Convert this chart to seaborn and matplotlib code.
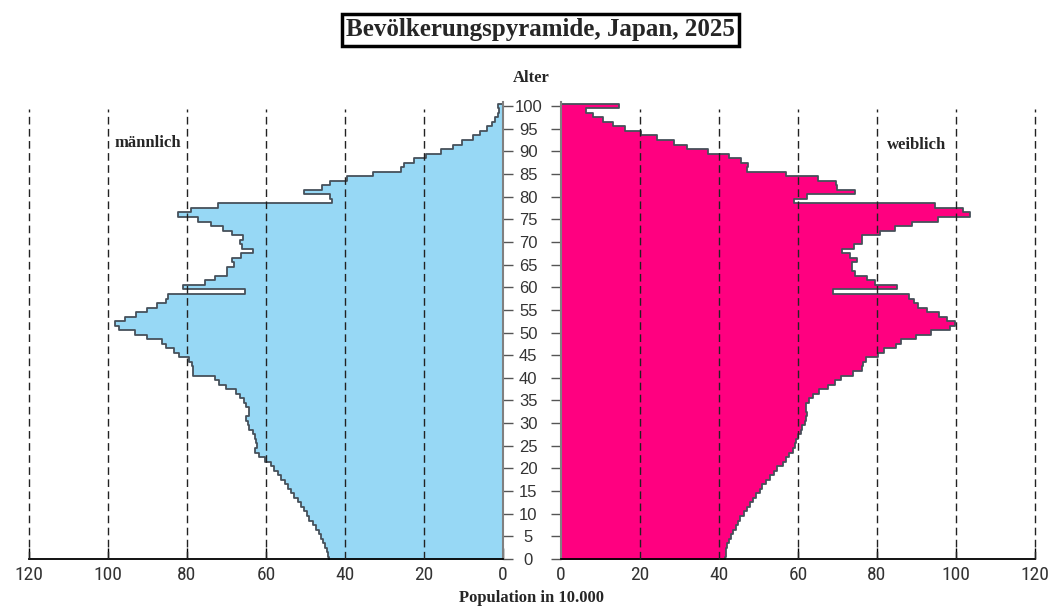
import matplotlib
matplotlib.use("Agg")
import matplotlib.pyplot as plt
from matplotlib import font_manager
import pandas as pd
import seaborn as sns

# Age in completed years (100 = 100 and older)
ages = list(range(0, 101))

# Population in units of 10,000, ages 0..100
male = [
    44.1, 44.4, 44.6, 45.0, 45.5, 46.1, 46.7, 47.3, 48.2, 49.0,
    49.7, 50.3, 51.1, 52.0, 52.8, 53.7, 54.5, 55.3, 56.2, 57.0,
    57.9, 58.7, 60.2, 61.7, 62.9, 62.3, 62.5, 62.9, 63.4, 64.2,
    64.6, 65.0, 64.2, 64.4, 65.0, 65.5, 66.7, 67.7, 70.1, 71.8,
    73.0, 78.5, 78.5, 78.7, 79.5, 82.0, 83.2, 85.3, 86.3, 90.0,
    93.1, 97.3, 98.1, 95.8, 93.0, 90.1, 87.5, 85.3, 84.8, 65.3,
    80.9, 75.4, 73.0, 69.8, 69.8, 68.2, 68.7, 66.3, 63.4, 66.0,
    66.7, 65.9, 68.7, 70.9, 73.9, 77.3, 82.3, 79.1, 72.2, 43.2,
    43.8, 50.3, 45.8, 43.9, 39.4, 32.8, 25.8, 25.0, 22.5, 19.4,
    15.6, 12.7, 10.4, 7.7, 5.8, 4.0, 2.8, 1.9, 1.3, 0.9,
    1.2,
]
female = [
    41.6, 41.7, 41.9, 42.1, 42.5, 43.0, 43.6, 44.3, 44.9, 45.4,
    46.3, 47.0, 47.8, 48.7, 49.5, 50.3, 51.0, 51.9, 52.9, 53.9,
    54.6, 56.1, 56.9, 57.8, 58.8, 59.2, 59.4, 60.0, 60.9, 61.1,
    61.7, 62.0, 62.3, 62.1, 62.1, 62.8, 63.8, 65.3, 67.6, 69.3,
    71.0, 73.9, 76.1, 76.5, 77.3, 80.3, 81.8, 84.7, 86.2, 90.0,
    93.6, 98.4, 99.8, 97.7, 95.6, 92.6, 90.5, 89.5, 88.0, 68.8,
    85.2, 79.6, 77.4, 74.5, 73.6, 73.6, 74.9, 73.1, 71.1, 74.1,
    76.2, 76.2, 80.8, 84.6, 88.9, 95.4, 103.6, 101.8, 94.8, 58.9,
    62.2, 74.5, 69.9, 69.6, 65.1, 57.1, 47.0, 47.3, 45.6, 42.6,
    37.2, 32.0, 28.6, 24.4, 20.3, 16.3, 13.1, 10.6, 8.1, 6.4,
    14.8,
]

x_ticks = [0, 20, 40, 60, 80, 100, 120]
grid_x = [20, 40, 60, 80, 100, 120]
age_ticks = list(range(0, 101, 5))

df = pd.DataFrame({"age": ages, "male": male, "female": female})

sns.set_theme(style="white")
plt.rcParams["font.family"] = ["DejaVu Sans"]

# narrowest available sans family for the population scale
installed = {f.name for f in font_manager.fontManager.ttflist}
narrow = next((n for n in ("Liberation Sans Narrow", "DejaVu Sans Condensed",
                           "Roboto Condensed", "Liberation Sans")
               if n in installed), "DejaVu Sans")

MALE_COLOR = "#97D8F5"
FEMALE_COLOR = "#FF0080"
EDGE = "#46505a"

fig = plt.figure(figsize=(10.58, 6.09), dpi=100)
bottom, height = 0.0821, 0.7512
axL = fig.add_axes([0.0274, bottom, 0.448, height])
axR = fig.add_axes([0.5302, bottom, 0.448, height])

sns.histplot(data=df, y="age", weights="male", discrete=True, element="step",
             fill=True, color=MALE_COLOR, alpha=1, edgecolor=EDGE,
             linewidth=1.3, ax=axL)
sns.histplot(data=df, y="age", weights="female", discrete=True, element="step",
             fill=True, color=FEMALE_COLOR, alpha=1, edgecolor=EDGE,
             linewidth=1.3, ax=axR)

axL.set_xlim(120, 0)
axR.set_xlim(0, 120)
for ax in (axL, axR):
    ax.set_ylim(0, 101)
    ax.set_xlabel("")
    ax.set_ylabel("")
    ax.set_xticks(x_ticks)
    ax.set_xticklabels([str(t) for t in x_ticks], family=narrow,
                       fontsize=14, color="#333333")
    ax.tick_params(axis="x", direction="in", length=8, width=1,
                   color="black", pad=5, bottom=True)
    ax.vlines(grid_x, 0, 99.4, colors="#222222", linewidth=1.0,
              linestyles=(0, (5.5, 3.2)), zorder=3, clip_on=False)
    ax.spines["top"].set_visible(False)
    ax.spines["bottom"].set_color("black")
    ax.spines["bottom"].set_linewidth(1.3)
    ax.set_yticks(age_ticks)
    ax.grid(False)

# left panel: age axis on its right edge, no labels
axL.spines["left"].set_visible(False)
axL.spines["right"].set_color("#808080")
axL.spines["right"].set_linewidth(1.5)
axL.yaxis.tick_right()
axL.tick_params(axis="y", direction="out", length=7, width=1,
                color="#555555", labelright=False, right=True)

# right panel: age axis on its left edge, labels centred in the gap
axR.spines["right"].set_visible(False)
axR.spines["left"].set_color("#808080")
axR.spines["left"].set_linewidth(1.5)
axR.tick_params(axis="y", direction="out", length=7, width=1,
                color="#555555", left=True, pad=16.5)
axR.set_yticklabels([str(t) for t in age_ticks], fontsize=12,
                    family=["Liberation Sans", "DejaVu Sans"],
                    color="#333333", ha="center")

serif = ["Liberation Serif", "DejaVu Serif"]
fig.text(0.511, 0.951, "Bevölkerungspyramide, Japan, 2025", ha="center",
         va="center", family=serif, fontweight="bold", fontsize=18,
         bbox=dict(boxstyle="square,pad=0.17", fc="white", ec="black", lw=2.5))
fig.text(0.502, 0.872, "Alter", ha="center", va="center", family=serif,
         fontweight="bold", fontsize=12)
fig.text(0.1399, 0.765, "männlich", ha="center", va="center", family=serif,
         fontweight="bold", fontsize=12)
fig.text(0.8667, 0.762, "weiblich", ha="center", va="center", family=serif,
         fontweight="bold", fontsize=12)
fig.text(0.502, 0.018, "Population in 10.000", ha="center", va="center",
         family=serif, fontweight="bold", fontsize=12)

fig.savefig("out.png", dpi=100, facecolor="white")
